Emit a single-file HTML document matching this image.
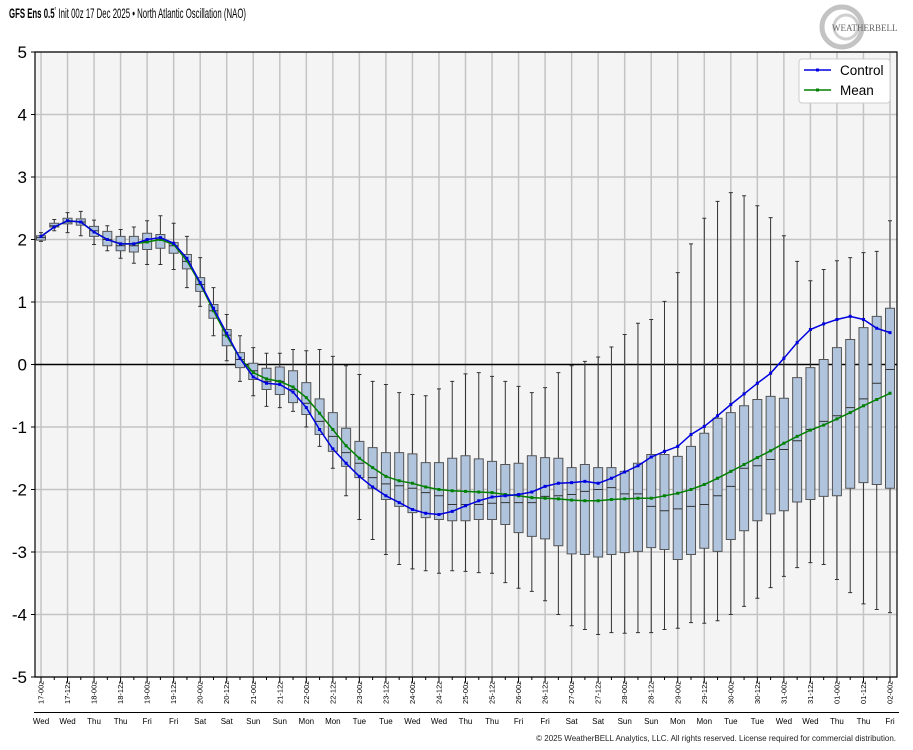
<!DOCTYPE html>
<html><head><meta charset="utf-8">
<style>
body{margin:0;background:#fff;width:913px;height:750px;overflow:hidden;font-family:"Liberation Sans",sans-serif;}
svg{display:block}
</style></head>
<body>
<svg id="chart" width="913" height="750" viewBox="0 0 913 750" xmlns="http://www.w3.org/2000/svg">
<text x="9" y="18" font-size="14" font-family="Liberation Sans Narrow, Liberation Sans, sans-serif" textLength="237" lengthAdjust="spacingAndGlyphs"><tspan font-weight="bold">GFS Ens 0.5</tspan><tspan font-size="8" dy="-5">°</tspan><tspan dy="5"> Init 00z 17 Dec 2025 • North Atlantic Oscillation (NAO)</tspan></text>
<g>
<circle cx="842" cy="27" r="20" fill="none" stroke="#aaa" stroke-width="5" opacity="0.7"/>
<circle cx="846" cy="27" r="12" fill="none" stroke="#bbb" stroke-width="3" opacity="0.7"/>
<text x="832" y="31" font-size="9" font-family="Liberation Serif,serif" fill="#666">WEATHERBELL</text>
</g>
<g id="plot"></g>
<text x="896" y="741" font-size="8" text-anchor="end" fill="#222">© 2025 WeatherBELL Analytics, LLC. All rights reserved. License required for commercial distribution.</text>
</svg>
<script>
const ctrl=[2.05,2.2,2.3,2.28,2.12,2.0,1.93,1.93,2.0,2.03,1.94,1.7,1.31,0.9,0.5,0.1,-0.2,-0.3,-0.32,-0.44,-0.69,-1.04,-1.35,-1.58,-1.79,-1.96,-2.1,-2.21,-2.32,-2.38,-2.4,-2.35,-2.26,-2.18,-2.12,-2.1,-2.08,-2.04,-1.95,-1.9,-1.89,-1.87,-1.9,-1.82,-1.72,-1.62,-1.48,-1.39,-1.31,-1.12,-0.99,-0.82,-0.64,-0.47,-0.3,-0.14,0.1,0.35,0.56,0.65,0.72,0.77,0.72,0.58,0.51];
const mean=[2.05,2.2,2.3,2.28,2.12,2.0,1.93,1.93,1.96,2.0,1.92,1.66,1.29,0.86,0.46,0.1,-0.13,-0.23,-0.27,-0.36,-0.53,-0.78,-1.04,-1.3,-1.5,-1.65,-1.79,-1.86,-1.9,-1.96,-2.0,-2.02,-2.03,-2.04,-2.05,-2.08,-2.1,-2.13,-2.14,-2.15,-2.17,-2.18,-2.18,-2.16,-2.15,-2.14,-2.14,-2.1,-2.06,-2.0,-1.92,-1.82,-1.71,-1.6,-1.49,-1.38,-1.26,-1.15,-1.05,-0.97,-0.87,-0.77,-0.66,-0.56,-0.46];
const q3=[2.06,2.26,2.34,2.33,2.21,2.13,2.05,2.05,2.1,2.08,1.95,1.76,1.39,0.96,0.56,0.19,0.02,-0.06,-0.04,-0.1,-0.29,-0.55,-0.77,-1.02,-1.23,-1.33,-1.41,-1.41,-1.43,-1.57,-1.57,-1.5,-1.46,-1.51,-1.55,-1.6,-1.58,-1.46,-1.49,-1.5,-1.65,-1.6,-1.65,-1.65,-1.71,-1.58,-1.44,-1.44,-1.47,-1.31,-1.1,-0.86,-0.77,-0.66,-0.56,-0.51,-0.54,-0.21,-0.05,0.08,0.27,0.4,0.59,0.77,0.9];
const q1=[1.99,2.2,2.25,2.23,2.05,1.9,1.82,1.8,1.84,1.86,1.78,1.53,1.17,0.74,0.3,-0.05,-0.24,-0.4,-0.48,-0.61,-0.8,-1.12,-1.39,-1.63,-1.81,-1.98,-2.16,-2.27,-2.37,-2.45,-2.48,-2.5,-2.5,-2.48,-2.48,-2.56,-2.69,-2.75,-2.79,-2.9,-3.03,-3.04,-3.08,-3.04,-3.01,-2.99,-2.93,-2.96,-3.12,-3.04,-2.94,-2.99,-2.8,-2.66,-2.5,-2.39,-2.34,-2.2,-2.16,-2.11,-2.1,-1.98,-1.89,-1.92,-1.98];
const med=[2.03,2.22,2.28,2.28,2.14,2.0,1.9,1.9,1.97,2.0,1.9,1.65,1.28,0.86,0.47,0.08,-0.1,-0.27,-0.27,-0.4,-0.62,-0.91,-1.15,-1.41,-1.58,-1.81,-1.91,-1.94,-1.98,-2.05,-2.1,-2.24,-2.24,-2.24,-2.22,-2.21,-2.21,-2.21,-2.11,-2.1,-2.08,-2.03,-2.0,-1.97,-2.07,-2.07,-2.27,-2.34,-2.31,-2.27,-2.24,-2.1,-1.95,-1.66,-1.62,-1.52,-1.36,-1.22,-1.04,-0.91,-0.82,-0.69,-0.55,-0.3,-0.08];
const wmax=[2.11,2.32,2.43,2.45,2.31,2.22,2.16,2.2,2.3,2.38,2.26,2.05,1.71,1.23,0.8,0.46,0.27,0.18,0.18,0.24,0.22,0.24,0.13,-0.02,-0.16,-0.27,-0.32,-0.45,-0.48,-0.5,-0.39,-0.27,-0.15,-0.13,-0.19,-0.27,-0.35,-0.45,-0.37,-0.13,-0.02,0.05,0.12,0.28,0.48,0.66,0.72,1.01,1.47,1.93,2.34,2.61,2.75,2.7,2.54,2.35,2.06,1.65,1.34,1.52,1.66,1.71,1.79,1.81,2.3];
const wmin=[1.97,2.14,2.11,2.06,1.92,1.82,1.7,1.62,1.6,1.6,1.52,1.23,0.93,0.46,0.06,-0.27,-0.5,-0.67,-0.69,-0.75,-1.0,-1.31,-1.66,-2.1,-2.48,-2.8,-3.04,-3.2,-3.27,-3.3,-3.34,-3.3,-3.31,-3.33,-3.34,-3.49,-3.58,-3.63,-3.78,-4.0,-4.18,-4.24,-4.32,-4.29,-4.3,-4.29,-4.29,-4.24,-4.22,-4.13,-4.14,-4.1,-4.0,-3.87,-3.74,-3.57,-3.39,-3.25,-3.17,-3.2,-3.44,-3.65,-3.83,-3.92,-3.97];
const yTicks=[5,4,3,2,1,0,-1,-2,-3,-4,-5];
const dates=["17","17","18","18","19","19","20","20","21","21","22","22","23","23","24","24","25","25","26","26","27","27","28","28","29","29","30","30","31","31","01","01","02"];
const dayNames=["Wed","Wed","Thu","Thu","Fri","Fri","Sat","Sat","Sun","Sun","Mon","Mon","Tue","Tue","Wed","Wed","Thu","Thu","Fri","Fri","Sat","Sat","Sun","Sun","Mon","Mon","Tue","Tue","Wed","Wed","Thu","Thu","Fri"];

const NS="http://www.w3.org/2000/svg";
const g=document.getElementById('plot');
const L=35,R=897,T=52,B=677;
const X0=41,X1=890,N=ctrl.length;
function xs(i){return X0+(X1-X0)*i/(N-1);}
function ys(v){return 364.5-62.5*v;}
function mk(tag,attrs,parent){const e=document.createElementNS(NS,tag);for(const k in attrs)e.setAttribute(k,attrs[k]);(parent||g).appendChild(e);return e;}

let bg=mk('rect',{x:L,y:T,width:R-L,height:B-T,fill:'#f4f4f4'});


for(let k=0;k<dates.length;k++){
  const x=xs(k*2);
  let l=mk('line',{x1:x,x2:x,y1:T,y2:B,stroke:'#c4c4c4','stroke-width':1.5});
  
  
}
yTicks.forEach(v=>{
  const y=ys(v);
  let l=mk('line',{x1:L,x2:R,y1:y,y2:y,stroke:v===0?'#000':'#c4c4c4','stroke-width':1.5});
  
  
  let tk=mk('line',{x1:L-4,x2:L,y1:y,y2:y,stroke:'#000'});
  
  
  let t=mk('text',{x:27,y:y+6,'font-size':17,'text-anchor':'end',fill:'#000'});
  t.textContent=v;
  
  
});
for(let i=0;i<N;i++){
  const x=xs(i);
  let w=mk('line',{x1:x,x2:x,y1:ys(wmax[i]),y2:ys(wmin[i]),stroke:'#333','stroke-width':1});
  
  
  [wmax[i],wmin[i]].forEach(v=>{
    let c=mk('line',{x1:x-2,x2:x+2,y1:ys(v),y2:ys(v),stroke:'#333'});
    
    
  });
  let b=mk('rect',{x:x-4.5,y:ys(q3[i]),width:9,height:Math.max(1,ys(q1[i])-ys(q3[i])),fill:'#b0c4de',stroke:'#555','stroke-width':1});
  
  
  let m=mk('line',{x1:x-4.5,x2:x+4.5,y1:ys(med[i]),y2:ys(med[i]),stroke:'#333','stroke-width':1});
  
  
}
function series(arr,col,name){
  let d=arr.map((v,i)=>(i?'L':'M')+xs(i).toFixed(1)+' '+ys(v).toFixed(1)).join(' ');
  let p=mk('path',{d:d,fill:'none',stroke:col,'stroke-width':1.5});
  
  
  arr.forEach((v,i)=>{
    let r=mk('rect',{x:xs(i)-1.5,y:ys(v)-1.5,width:3,height:3,fill:col});
    
    
  });
}
series(mean,'#008000','mean');
series(ctrl,'#0000e0','control');
let fr=mk('rect',{x:L,y:T,width:R-L,height:B-T,fill:'none',stroke:'#000','stroke-width':1.2});


for(let i=0;i<N;i++){
  let tk=mk('line',{x1:xs(i),x2:xs(i),y1:B,y2:B+(i%2?3:5),stroke:'#000'});
  
  
}
for(let k=0;k<dates.length;k++){
  const x=xs(k*2);
  let t=mk('text',{x:0,y:0,'font-size':7.5,'text-anchor':'end',transform:`translate(${x+2.5},681) rotate(-90)`,fill:'#000'});
  t.textContent=dates[k]+'-'+(k%2?'12z':'00z');
  
  
  let d=mk('text',{x:x,y:724,'font-size':8,'text-anchor':'middle',fill:'#000'});
  d.textContent=dayNames[k];
  
  
}
let sep=mk('line',{x1:34,x2:899,y1:712.5,y2:712.5,stroke:'#000','stroke-width':1});


const lg=mk('g',{});


mk('rect',{x:799,y:59,width:91,height:44,rx:3,fill:'#fff',stroke:'#ccc'},lg);
[['Control','#0000e0',70],['Mean','#008000',90]].forEach(([n,c,y])=>{
  const e=mk('g',{},lg);
  
  
  mk('line',{x1:804,x2:831,y1:y,y2:y,stroke:c,'stroke-width':1.5},e);
  mk('rect',{x:816,y:y-1.5,width:3,height:3,fill:c},e);
  const t=mk('text',{x:840,y:y+5,'font-size':13.5,fill:'#000'},e);
  t.textContent=n;
});
</script>
</body></html>
